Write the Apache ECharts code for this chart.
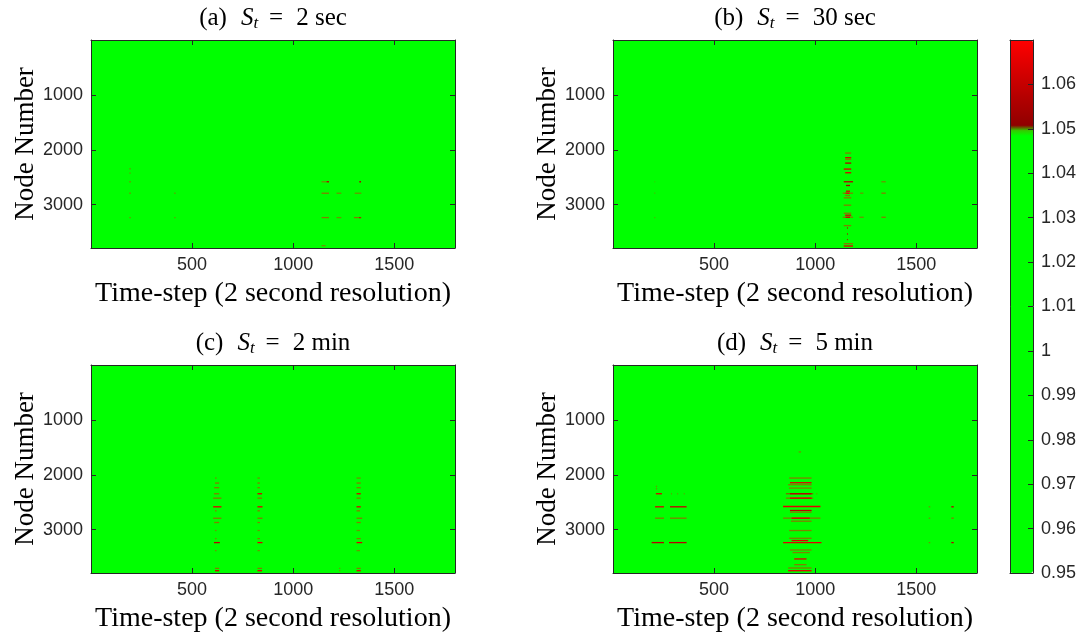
<!DOCTYPE html>
<html><head><meta charset="utf-8">
<script src="https://cdn.jsdelivr.net/npm/echarts@6/dist/echarts.min.js"></script>
<style>html,body{margin:0;padding:0;background:#fff}#c{width:1091px;height:634px}</style>
</head><body><div id="c"></div>
<script>
// ---------- data ----------
const timeRange = [0, 1800];
const nodeRange = [0, 3790];
const xTickLabels = [500, 1000, 1500];
const yTickLabels = [1000, 2000, 3000];
const colorRange = [0.95, 1.07];
const colorTickLabels = [0.95, 0.96, 0.97, 0.98, 0.99, 1, 1.01, 1.02, 1.03, 1.04, 1.05, 1.06];
const baseVoltage = 1.0;
const panelTitles = ['a', 'b', 'c', 'd'];
const panelValues = ['2 sec', '30 sec', '2 min', '5 min'];
const xName = 'Time-step (2 second resolution)';
const yName = 'Node Number';

// events: [timeStart, timeEnd, node, voltage]
const eventsA = [
  [190,196,2346,1.0497],[190,196,2426,1.0497],[190,196,2583,1.04975],[190,196,2792,1.04975],[190,196,3236,1.04975],
  [412,418,2792,1.0497],[412,418,3236,1.0497],
  [1140,1165,2583,1.0497],[1165,1177,2583,1.058],[1327,1335,2583,1.056],
  [1140,1177,2792,1.04975],[1214,1238,2792,1.0497],[1304,1337,2792,1.0497],
  [1140,1177,3236,1.04975],[1214,1238,3236,1.0497],[1300,1337,3236,1.04975],[1327,1333,3236,1.056],
  [1140,1160,3748,1.0497]
];
const eventsB = [
  [1148,1178,2060,1.04975],[1148,1178,2145,1.064],[1148,1178,2176,1.04975],[1148,1178,2243,1.058],
  [1141,1178,2352,1.064],[1148,1178,2419,1.064],[1141,1187,2583,1.058],[1152,1172,2651,1.056],
  [1152,1172,2755,1.064],[1136,1187,2791,1.04975],[1150,1170,2791,1.065],[1148,1172,2834,1.04975],
  [1141,1178,2876,1.04975],[1141,1178,3010,1.04975],[1141,1178,3157,1.04975],[1148,1178,3193,1.064],
  [1136,1187,3230,1.04975],[1150,1172,3230,1.062],[1141,1178,3382,1.04975],[1157,1161,3425,1.058],
  [1157,1161,3535,1.058],[1157,1161,3638,1.058],[1141,1187,3711,1.04975],[1141,1187,3754,1.065],
  [1222,1238,2791,1.0497],[1218,1240,3230,1.0497],
  [1327,1349,2583,1.0497],[1327,1349,2791,1.04975],[1327,1349,3230,1.04975],
  [205,209,2583,1.0496],[205,209,2791,1.0497],[205,209,3235,1.0497]
];
const eventsC = [
  [613,621,2060,1.0497],[613,634,2151,1.04975],[609,634,2236,1.04975],[608,634,2346,1.04975],
  [604,645,2426,1.04975],[604,645,2584,1.065],[613,621,2657,1.04975],[604,645,2792,1.04975],
  [609,634,2870,1.04975],[613,621,3016,1.0497],[613,621,3163,1.0497],[608,637,3236,1.058],
  [613,621,3382,1.0497],[613,634,3706,1.04975],[613,634,3748,1.062],
  [823,835,2060,1.0497],[823,835,2151,1.04975],[823,835,2236,1.04975],[823,846,2346,1.064],
  [823,846,2426,1.04975],[823,848,2584,1.065],[823,835,2657,1.04975],[823,848,2792,1.04975],
  [823,835,2870,1.04975],[823,835,3016,1.0497],[823,835,3163,1.04975],[823,848,3236,1.064],
  [823,835,3382,1.0497],[823,846,3706,1.04975],[823,846,3748,1.065],
  [1313,1334,2060,1.0497],[1313,1334,2151,1.04975],[1313,1334,2236,1.04975],[1313,1334,2346,1.064],
  [1313,1334,2426,1.04975],[1313,1334,2584,1.065],[1313,1330,2657,1.04975],[1313,1341,2792,1.04975],
  [1313,1334,2870,1.04975],[1313,1330,3016,1.0497],[1313,1334,3163,1.04975],[1313,1341,3236,1.064],
  [1313,1330,3382,1.0497],[1313,1334,3706,1.04975],[1313,1334,3748,1.065],
  [1227,1233,3706,1.0497],[1227,1233,3748,1.0497]
];
const eventsD = [
  [212,218,2212,1.0497],[212,218,2255,1.0497],
  [212,242,2346,1.064],[287,291,2346,1.0497],[318,322,2346,1.0497],[350,354,2346,1.0497],
  [208,252,2584,1.064],[282,364,2584,1.06],
  [208,252,2791,1.04975],[282,364,2791,1.04975],
  [191,252,3236,1.058],[277,364,3236,1.058],
  [918,930,1584,1.0497],[871,982,2060,1.04975],[875,982,2145,1.065],[866,982,2182,1.04975],
  [871,982,2243,1.04975],[855,990,2346,1.0498],[875,982,2346,1.058],[855,990,2426,1.04975],
  [875,982,2426,1.064],[841,1026,2578,1.065],[875,982,2651,1.058],[875,982,2682,1.04975],
  [841,1026,2791,1.04975],[883,973,2791,1.064],[880,982,2846,1.04975],[871,982,3016,1.04975],
  [871,982,3157,1.04975],[883,965,3199,1.064],[841,1031,3236,1.065],[875,982,3370,1.04975],
  [888,973,3418,1.04975],[896,957,3534,1.065],[896,957,3638,1.04975],[866,982,3699,1.04975],
  [866,982,3748,1.065],[1006,1010,2346,1.0497],
  [1561,1569,2584,1.0497],[1673,1685,2584,1.058],[1561,1569,2791,1.0497],[1673,1685,2791,1.04975],
  [1561,1569,3236,1.0497],[1673,1685,3236,1.058]
];
const panelEvents = [eventsA, eventsB, eventsC, eventsD];

// ---------- style ----------
const ROW_H = 24;              // node thickness of one drawn stripe
const AX = '#262626';
const SANS = 'Liberation Sans';
const SERIF = 'Liberation Serif';
const panelBoxes = [
  {left: 91, top: 40}, {left: 613, top: 40}, {left: 91, top: 365}, {left: 613, top: 365}
];
const PW = 364, PH = 208;

function lerp(a, b, f) { return 'rgb(' + a.map((x, i) => Math.round(x + (b[i] - x) * f)).join(',') + ')'; }
function colorAt(v) {
  const G = [0,255,0], O = [128,128,0], DR = [139,0,0], R = [255,0,0];
  if (v <= 1.0495) return lerp(G, G, 0);
  if (v <= 1.04975) return lerp(G, O, (v - 1.0495) / 0.00025);
  if (v <= 1.05) return lerp(O, DR, (v - 1.04975) / 0.00025);
  return lerp(DR, R, Math.min(1, (v - 1.05) / 0.02));
}
const colorStops = [];
for (let i = 0; i <= 480; i++) colorStops.push(colorAt(colorRange[0] + i * 0.00025));

function cellData(events) {
  const d = [[timeRange[0], timeRange[1], nodeRange[0], nodeRange[1], baseVoltage]];
  events.forEach(e => d.push([e[0], e[1], e[2] - ROW_H / 2, e[2] + ROW_H / 2, e[3]]));
  return d;
}
function renderCell(params, api) {
  const p0 = api.coord([api.value(0), api.value(2)]);
  const p1 = api.coord([api.value(1), api.value(3)]);
  return {
    type: 'rect',
    shape: {x: Math.min(p0[0], p1[0]), y: Math.min(p0[1], p1[1]),
            width: Math.abs(p1[0] - p0[0]), height: Math.abs(p1[1] - p0[1])},
    style: {fill: api.visual('color')}
  };
}

const grids = [], xAxes = [], yAxes = [], series = [];
function lineStyle() { return {color: AX, width: 1}; }
function tick() { return {show: true, inside: true, length: 5, lineStyle: {color: AX, width: 1}}; }
panelBoxes.forEach((b, i) => {
  grids.push({left: b.left, top: b.top, width: PW, height: PH, containLabel: false});
  xAxes.push({gridIndex: i, type: 'value', min: timeRange[0], max: timeRange[1], interval: 500,
    position: 'bottom', axisLine: {show: true, onZero: false, lineStyle: lineStyle()}, axisTick: tick(), splitLine: {show: false},
    axisLabel: {show: true, margin: 8, color: AX, fontFamily: SANS, fontSize: 18,
      formatter: v => xTickLabels.indexOf(v) >= 0 ? String(v) : ''},
    name: xName, nameLocation: 'middle', nameGap: 32,
    nameTextStyle: {fontFamily: SERIF, fontSize: 28, color: '#000'}, z: 10});
  xAxes.push({gridIndex: i, type: 'value', min: timeRange[0], max: timeRange[1], interval: 500,
    position: 'top', axisLine: {show: true, onZero: false, lineStyle: lineStyle()}, axisTick: tick(), splitLine: {show: false},
    axisLabel: {show: false},
    name: '(' + panelTitles[i] + '){S|S}{t|t}{eq|=}' + panelValues[i], nameLocation: 'middle', nameGap: 8,
    nameTextStyle: {fontFamily: SERIF, fontSize: 25, color: '#000', lineHeight: 28, verticalAlign: 'bottom',
      rich: {
        S: {fontFamily: SERIF, fontStyle: 'italic', fontSize: 25, color: '#000', lineHeight: 28, padding: [0,0,0,14]},
        t: {fontFamily: SERIF, fontStyle: 'italic', fontSize: 17, color: '#000', lineHeight: 17, verticalAlign: 'bottom'},
        eq: {fontFamily: SERIF, fontSize: 25, color: '#000', lineHeight: 28, padding: [0,13,0,11]}
      }}, z: 10});
  yAxes.push({gridIndex: i, type: 'value', min: nodeRange[0], max: nodeRange[1], interval: 1000, inverse: true,
    position: 'left', axisLine: {show: true, onZero: false, lineStyle: lineStyle()}, axisTick: tick(), splitLine: {show: false},
    axisLabel: {show: true, margin: 8, color: AX, fontFamily: SANS, fontSize: 18,
      formatter: v => yTickLabels.indexOf(v) >= 0 ? String(v) : ''},
    name: yName, nameLocation: 'middle', nameGap: 52,
    nameTextStyle: {fontFamily: SERIF, fontSize: 27, color: '#000'}, z: 10});
  yAxes.push({gridIndex: i, type: 'value', min: nodeRange[0], max: nodeRange[1], interval: 1000, inverse: true,
    position: 'right', axisLine: {show: true, onZero: false, lineStyle: lineStyle()}, axisTick: tick(), splitLine: {show: false},
    axisLabel: {show: false}, z: 10});
  series.push({type: 'custom', xAxisIndex: 2 * i, yAxisIndex: 2 * i, coordinateSystem: 'cartesian2d',
    renderItem: renderCell, clip: true, silent: true, animation: false, z: 1,
    encode: {x: [0, 1], y: [2, 3]}, data: cellData(panelEvents[i])});
});

// colorbar axes
const cb = 4;
grids.push({left: 1010, top: 40, width: 23, height: 533});
xAxes.push({gridIndex: cb, type: 'value', min: 0, max: 1, position: 'bottom', axisLine: {show: true, onZero: false, lineStyle: lineStyle()},
  axisTick: {show: false}, axisLabel: {show: false}, splitLine: {show: false}, z: 10});
xAxes.push({gridIndex: cb, type: 'value', min: 0, max: 1, position: 'top', axisLine: {show: true, onZero: false, lineStyle: lineStyle()},
  axisTick: {show: false}, axisLabel: {show: false}, splitLine: {show: false}, z: 10});
yAxes.push({gridIndex: cb, type: 'value', min: colorRange[0], max: colorRange[1], interval: 0.01, position: 'right',
  axisLine: {show: true, onZero: false, lineStyle: lineStyle()}, axisTick: tick(), splitLine: {show: false},
  axisLabel: {show: true, margin: 8, color: AX, fontFamily: SANS, fontSize: 18,
    formatter: v => { const r = Math.round(v * 100) / 100; return colorTickLabels.indexOf(r) >= 0 ? String(r) : ''; }},
  z: 10});
yAxes.push({gridIndex: cb, type: 'value', min: colorRange[0], max: colorRange[1], position: 'left',
  axisLine: {show: true, onZero: false, lineStyle: lineStyle()}, axisTick: {show: false}, axisLabel: {show: false}, splitLine: {show: false}, z: 10});

const chart = echarts.init(document.getElementById('c'), null, {renderer: 'canvas'});
chart.setOption({
  animation: false,
  backgroundColor: '#fff',
  grid: grids, xAxis: xAxes, yAxis: yAxes, series,
  visualMap: {type: 'continuous', min: colorRange[0], max: colorRange[1], dimension: 4,
    seriesIndex: [0, 1, 2, 3], calculable: false, hoverLink: false, realtime: false,
    show: true, orient: 'vertical', left: 1010, top: 40, itemWidth: 23, itemHeight: 533, padding: 0,
    inRange: {color: colorStops}, z: 2}
});
</script></body></html>
